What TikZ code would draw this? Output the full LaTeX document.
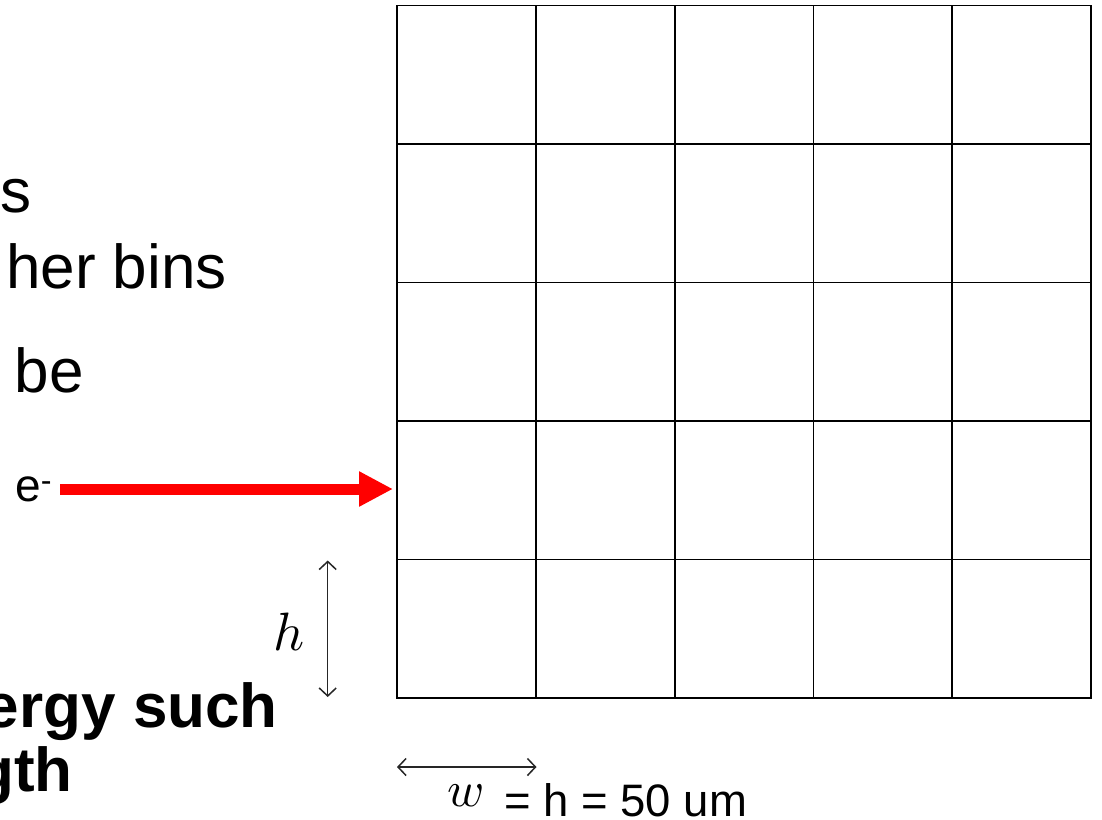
\documentclass[tikz,border=0pt]{standalone}
\usepackage{fontspec}
\setmainfont{Liberation Sans}
\usetikzlibrary{arrows.meta}
\tikzset{
  gridline/.style={line width=1.8pt, black},
  txt/.style={inner sep=0pt, font=\fontsize{62}{70}\selectfont},
  btxt/.style={inner sep=0pt, font=\fontsize{62}{70}\selectfont\bfseries},
  mathlab/.style={inner sep=0pt, scale=5.4},
  dimarrow/.style={line width=1.5pt, black!85, {Straight Barb[length=8pt,width=17pt]}-{Straight Barb[length=8pt,width=17pt]}},
  beam/.style={line width=11pt, red, -{Triangle[length=34pt,width=33pt]}}
}
\begin{document}
\begin{tikzpicture}[x=1pt,y=-1pt]
\useasboundingbox (0,0) rectangle (1102,819);
\fill[white] (0,0) rectangle (1102,819);
% grid
\draw[gridline] (397,5.5) rectangle (1091,698);
\foreach \i in {1,2,3,4} {
  \draw[gridline] (397+\i*138.8,5.5) -- (397+\i*138.8,698);
  \draw[gridline] (397,5.5+\i*138.5) -- (1091,5.5+\i*138.5);
}
\coordinate (gridentry) at (393,489);
% left texts
\node[txt, anchor=base east] (t1) at (32,212) {s};
\node[txt, anchor=base east] (t2) at (227,288) {her bins};
\node[txt, anchor=base east] (t3) at (84,392) {be};
\node[btxt, anchor=base east] (t4) at (278,727) {ergy such};
\node[btxt, anchor=base east] (t5) at (73,791) {gth};
% electron
\node[inner sep=0pt, anchor=base west, font=\fontsize{46}{50}\selectfont] (el) at (15,501) {e\textsuperscript{-}};
\draw[beam] (60,489) -- (gridentry);
% h dimension
\coordinate (htop) at (327.7,560.5);
\coordinate (hbot) at (327.7,697);
\draw[dimarrow] (htop) -- (hbot);
\node[mathlab, anchor=base east] (hl) at (306,650) {$h$};
% w dimension
\coordinate (wl) at (397,767);
\coordinate (wr) at (536.5,767);
\draw[dimarrow] (wl) -- (wr);
\node[mathlab, scale=0.93, anchor=base west] (wlab) at (446,806) {$w$};
\node[inner sep=0pt, anchor=base west, font=\fontsize{45.5}{50}\selectfont] (eq) at (504,816) {= h = 50 um};
\end{tikzpicture}
\end{document}
